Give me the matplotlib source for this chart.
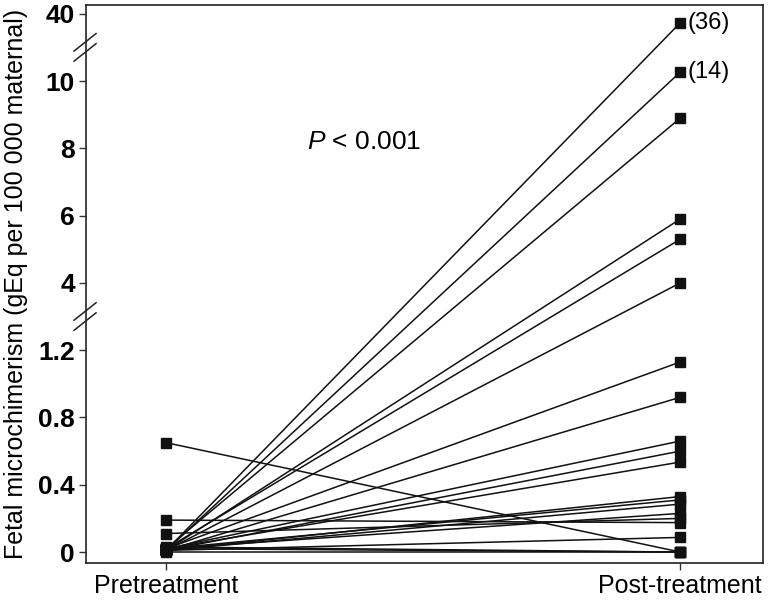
import numpy as np
import matplotlib
matplotlib.use('Agg')
import matplotlib.pyplot as plt

plt.rcParams['font.family'] = ['Liberation Sans', 'DejaVu Sans']
plt.rcParams['mathtext.fontset'] = 'custom'
plt.rcParams['mathtext.it'] = 'Liberation Sans:italic'
plt.rcParams['mathtext.rm'] = 'Liberation Sans'

# paired values per patient (gEq per 100 000 maternal)
pre = [0.01, 0.01, 0.02, 0.01, 0.02, 0.01, 0.02, 0.01, 0.02, 0.01, 0.02,
       0.01, 0.02, 0.01, 0.02, 0.19, 0.11, 0.01, 0.65, 0.0, 0.02, 0.03]
post = [36, 14, 8.9, 5.9, 5.3, 4.0, 1.13, 0.92, 0.66, 0.60, 0.535,
        0.33, 0.31, 0.285, 0.23, 0.175, 0.20, 0.087, 0.0, 0.0, 0.0, 0.0]
groups = ['Pretreatment', 'Post-treatment']
ytick_vals = [0, 0.4, 0.8, 1.2, 4, 6, 8, 10, 40]
ytick_labels = ['0', '0.4', '0.8', '1.2', '4', '6', '8', '10', '40']
off_scale = {36: '(36)', 14: '(14)'}

# broken axis: piecewise linear scale
knots_val = [0, 1.2, 4, 10, 40]
knots_pos = [0, 3, 4, 7, 8]


def tr(v):
    return np.interp(v, knots_val, knots_pos)


fig = plt.figure(figsize=(7.7, 6.01), dpi=100)
ax = fig.add_axes([0.1117, 0.0632, 0.8793, 0.9285])

for a, b in zip(pre, post):
    ax.plot([0, 1], [tr(a), tr(b)], color='#111111', lw=1.1,
            marker='s', ms=7, mfc='#111111', mec='#111111', zorder=2)

for v, lab in off_scale.items():
    ax.annotate(lab, (1, tr(v)), xytext=(5, 0), textcoords='offset points',
                ha='left', va='center', fontsize=17)

ax.text(0.385, tr(8.2), r'$\it{P}$ < 0.001', fontsize=19, ha='center', va='center')

ax.set_xlim(-0.156, 1.161)
ax.set_ylim(-0.163, 8.13)
ax.set_xticks([0, 1])
ax.set_xticklabels(groups, fontsize=18)
ax.set_yticks(tr(ytick_vals))
ax.set_yticklabels(ytick_labels, fontsize=19, fontweight='bold')
ax.tick_params(axis='both', direction='out', length=5, width=1, color='#333333')
ax.tick_params(axis='y', pad=3)
ax.tick_params(axis='x', pad=3)
for s in ax.spines.values():
    s.set_linewidth(1.2)
    s.set_color('#222222')

# break marks on the y axis
ytr = ax.get_yaxis_transform()
for yb in [3.5, 7.5]:
    for d in [-0.075, 0.075]:
        ax.plot([-0.0177, 0.0148], [yb + d - 0.13, yb + d + 0.13], color='#222222',
                lw=1.1, transform=ytr, clip_on=False)

fig.text(0.021, 0.528, 'Fetal microchimerism (gEq per 100 000 maternal)',
         rotation=90, ha='center', va='center', fontsize=18)

fig.savefig('out.png', dpi=100)
